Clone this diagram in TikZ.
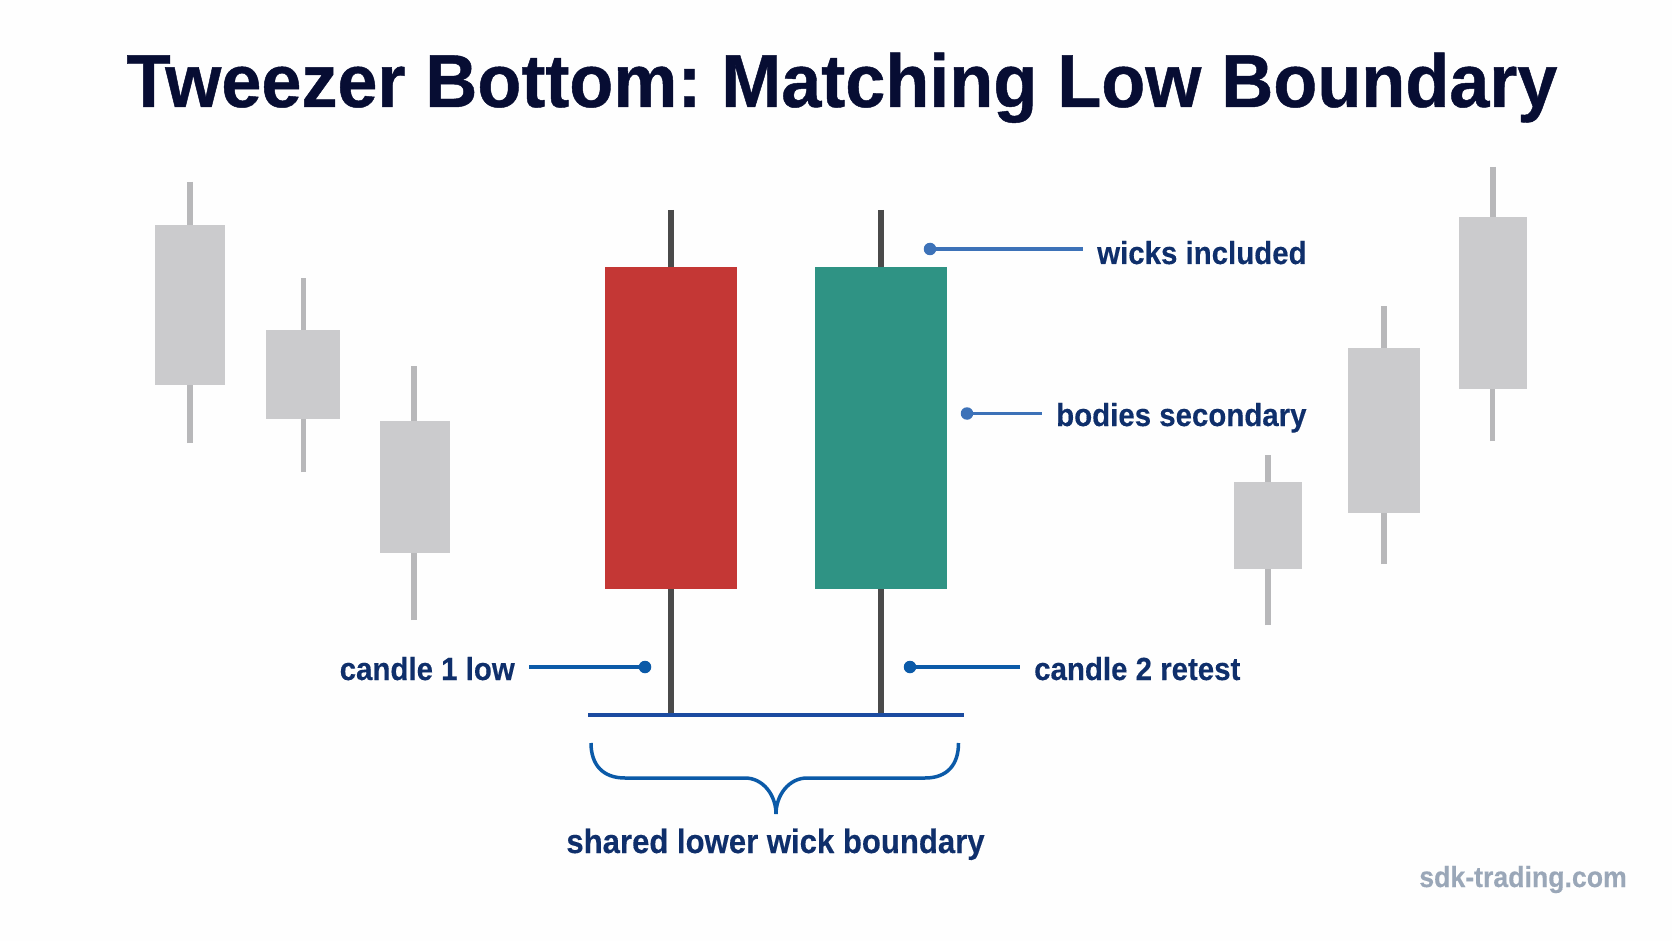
\documentclass[tikz,border=0pt]{standalone}
\usepackage{fontspec}
\setmainfont{Liberation Sans}
\newfontfamily\titlefont[FakeStretch=0.96,BoldFeatures={FakeBold=0.6}]{Liberation Sans}
\newfontfamily\lblfont[FakeStretch=0.92,BoldFeatures={FakeBold=0.3}]{Liberation Sans}
\usetikzlibrary{arrows.meta,
	backgrounds,
	calc}
\definecolor{navytitle}{HTML}{070D33}
\definecolor{navylabel}{HTML}{0F2F6B}
\definecolor{candlegray}{HTML}{CBCBCD}
\definecolor{wickgray}{HTML}{B8B8BA}
\definecolor{wickdark}{HTML}{4A4A4A}
\definecolor{bodyred}{HTML}{C43735}
\definecolor{bodygreen}{HTML}{2F9384}
\definecolor{dotlight}{HTML}{3D72B8}
\definecolor{dotdark}{HTML}{0B5AA8}
\definecolor{baseblue}{HTML}{1B4BA0}
\definecolor{markgray}{HTML}{9AA7B8}
\frenchspacing

\begin{document}
\begin{tikzpicture}[x=1pt,y=-1pt]
    \tikzstyle{candle}=[rectangle,fill=candlegray,inner sep=0pt]
    \tikzstyle{wick}=[wickgray,line width=5.5pt]
    \tikzstyle{mainwick}=[wickdark,line width=6pt]
    \tikzstyle{dotblue}=[circle,fill=dotlight,minimum size=12.5pt,inner sep=0pt]
    \tikzstyle{dotdeep}=[circle,fill=dotdark,minimum size=12.5pt,inner sep=0pt]
    \tikzstyle{lead}=[dotlight,line width=3.5pt]
    \tikzstyle{leaddeep}=[dotdark,line width=3.5pt]
    \tikzstyle{lbl}=[text=navylabel,inner xsep=14pt,inner ysep=0pt,font={\lblfont\bfseries\fontsize{32}{36}\selectfont}]
    \path[fill=white!99.5!black,use as bounding box] (0,0) rectangle (1672,941);
    \node[text=navytitle,inner sep=0pt,anchor=base,font={\titlefont\bfseries\fontsize{75}{80}\selectfont}] (title) at (842,107) {Tweezer Bottom: Matching Low Boundary};
    % gray candles left
    \node[candle,minimum width=70pt,minimum height=160pt] (c_1) at (190,305) {};
    \node[candle,minimum width=74pt,minimum height=89pt] (c_2) at (302.5,374.5) {};
    \node[candle,minimum width=70pt,minimum height=132pt] (c_3) at (415,487) {};
    \coordinate (c_1_hi) at (190,182);
    \coordinate (c_1_lo) at (190,443);
    \coordinate (c_2_hi) at (303.5,278);
    \coordinate (c_2_lo) at (303.5,472);
    \coordinate (c_3_hi) at (414,366);
    \coordinate (c_3_lo) at (414,620);
    \draw[wick] (c_1_hi) -- (c_1_hi |- c_1.north);
    \draw[wick] (c_1_lo) -- (c_1_lo |- c_1.south);
    \draw[wick] (c_2_hi) -- (c_2_hi |- c_2.north);
    \draw[wick] (c_2_lo) -- (c_2_lo |- c_2.south);
    \draw[wick] (c_3_hi) -- (c_3_hi |- c_3.north);
    \draw[wick] (c_3_lo) -- (c_3_lo |- c_3.south);
    % gray candles right
    \node[candle,minimum width=68pt,minimum height=87pt] (c_4) at (1268,525.5) {};
    \node[candle,minimum width=72pt,minimum height=165pt] (c_5) at (1384,430.5) {};
    \node[candle,minimum width=68pt,minimum height=172pt] (c_6) at (1493,303) {};
    \coordinate (c_4_hi) at (1268,455);
    \coordinate (c_4_lo) at (1268,625);
    \coordinate (c_5_hi) at (1384,306);
    \coordinate (c_5_lo) at (1384,564);
    \coordinate (c_6_hi) at (1493,167);
    \coordinate (c_6_lo) at (1492.5,441);
    \draw[wick] (c_4_hi) -- (c_4_hi |- c_4.north);
    \draw[wick] (c_4_lo) -- (c_4_lo |- c_4.south);
    \draw[wick] (c_5_hi) -- (c_5_hi |- c_5.north);
    \draw[wick] (c_5_lo) -- (c_5_lo |- c_5.south);
    \draw[wick] (c_6_hi) -- (c_6_hi |- c_6.north);
    \draw[wick] (c_6_lo) -- (c_6_lo |- c_6.south);
    % the two main candles
    \node[candle,fill=bodyred,minimum width=132pt,minimum height=322pt] (red) at (671,428) {};
    \node[candle,fill=bodygreen,minimum width=132pt,minimum height=322pt] (green) at (881,428) {};
    \coordinate (red_hi) at (671,210);
    \coordinate (red_lo) at (670.5,714.5);
    \coordinate (green_hi) at (881,210);
    \coordinate (green_lo) at (880.5,714.5);
    \draw[mainwick] (red_hi) -- (red_hi |- red.north);
    \draw[mainwick] (red_lo) -- (red_lo |- red.south);
    \draw[mainwick] (green_hi) -- (green_hi |- green.north);
    \draw[mainwick] (green_lo) -- (green_lo |- green.south);
    % boundary and brace
    \coordinate (base_l) at (588,714.5);
    \coordinate (base_r) at (963.5,714.5);
    \draw[baseblue,line width=4pt] (base_l) -- (base_r);
    \coordinate (brace_l) at (591,743);
    \coordinate (brace_r) at (958.5,743);
    \coordinate (brace_t) at (776,814);
    \draw[dotdark,line width=3.5pt] (brace_l) .. controls (591,765) and (603,778) .. (625,778)
      -- (745,778) .. controls (763,778) and (776,795) .. (brace_t)
      .. controls (776,795) and (789,778) .. (807,778)
      -- (925,778) .. controls (947,778) and (958.5,765) .. (brace_r);
    % labels
    \node[dotblue] (d_1) at (930,249) {};
    \node[lbl,anchor=base west] (l_1) at (1083,264) {wicks included};
    \draw[lead] (d_1) -- (d_1 -| l_1.west);
    \node[dotblue] (d_2) at (967,413.5) {};
    \node[lbl,anchor=base west] (l_2) at (1042,426) {bodies secondary};
    \draw[lead] (d_2) -- (d_2 -| l_2.west);
    \node[dotdeep] (d_3) at (645,667) {};
    \node[lbl,anchor=base east] (l_3) at (529,680) {candle 1 low};
    \draw[leaddeep] (d_3) -- (d_3 -| l_3.east);
    \node[dotdeep] (d_4) at (910,667) {};
    \node[lbl,anchor=base west] (l_4) at (1020,680) {candle 2 retest};
    \draw[leaddeep] (d_4) -- (d_4 -| l_4.west);
    \node[lbl,inner xsep=0pt,anchor=base,font={\lblfont\bfseries\fontsize{33.8}{36}\selectfont}] (l_5) at (775.5,853) {shared lower wick boundary};
    \node[text=markgray,inner sep=0pt,anchor=base east,font={\lblfont\bfseries\fontsize{29}{32}\selectfont}] (mark) at (1627,887) {sdk-trading.com};
\end{tikzpicture}
\end{document}
